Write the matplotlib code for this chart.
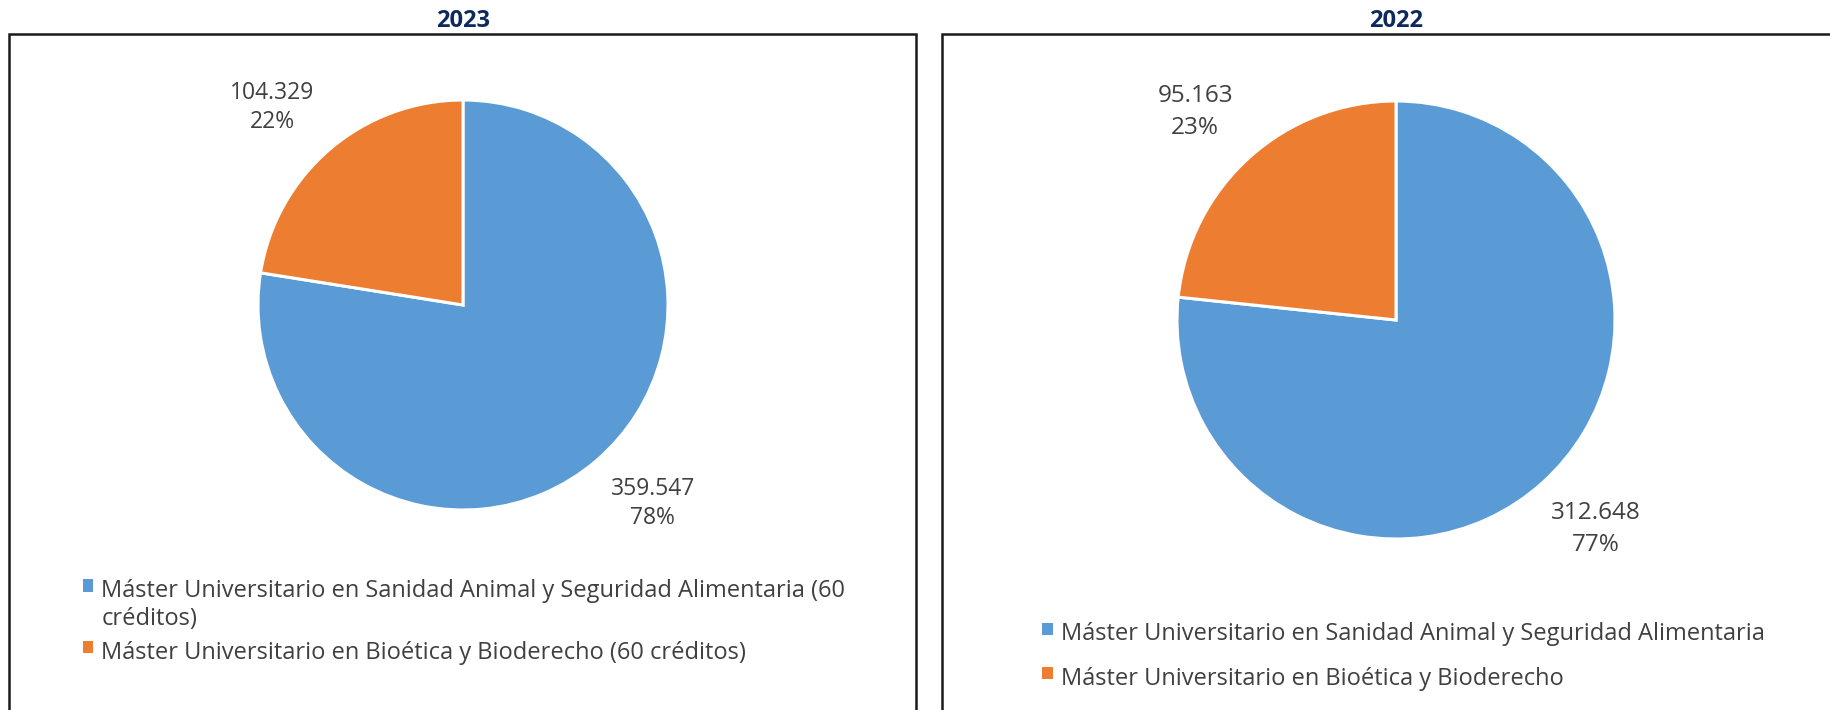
import matplotlib
matplotlib.use("Agg")
import matplotlib.pyplot as plt
from matplotlib.patches import Rectangle, Patch
import numpy as np

# ---- data ----
titles = ["2023", "2022"]
labels_2023 = ["Máster Universitario en Sanidad Animal y Seguridad Alimentaria (60\ncréditos)",
               "Máster Universitario en Bioética y Bioderecho (60 créditos)"]
labels_2022 = ["Máster Universitario en Sanidad Animal y Seguridad Alimentaria",
               "Máster Universitario en Bioética y Bioderecho"]
values_2023 = [359547, 104329]
values_2022 = [312648, 95163]
colors = ["#5B9BD5", "#ED7D31"]

W, H = 1830, 710
fig = plt.figure(figsize=(W / 100, H / 100), dpi=100)

FONT = ["Open Sans", "DejaVu Sans"]

def px_axes(cx, cy, r, L=1.6):
    half = L * r
    return fig.add_axes([(cx - half) / W, (H - cy - half) / H, 2 * half / W, 2 * half / H])

def fmt(v):
    return f"{v:,}".replace(",", ".")

# frames
for (x0, x1) in [(9, 916), (942, 1840)]:
    fig.add_artist(Rectangle((x0 / W, -0.05), (x1 - x0) / W, (H - 34) / H + 0.05,
                             transform=fig.transFigure, fill=False,
                             edgecolor="#1a1a1a", linewidth=1.8))

label_angles = [-46.3, 134.0]
panels = [
    (titles[0], values_2023, labels_2023, (463, 305, 205), 1.34, 16.5, 1.3, (82.5, 579), 0.42),
    (titles[1], values_2022, labels_2022, (1396, 320, 219), 1.32, 17.5, 1.45, (1042, 622.5), 0.85),
]

for title, vals, labs, (cx, cy, r), ldist, lfs, lls, (lx, ly), lspace in panels:
    L = 1.6
    ax = px_axes(cx, cy, r, L)
    wedges, _ = ax.pie(vals, colors=colors, startangle=90, counterclock=False,
                       wedgeprops=dict(edgecolor="white", linewidth=2.2), radius=1.0)
    ax.set_xlim(-L, L)
    ax.set_ylim(-L, L)
    ax.set_aspect("equal")
    ax.axis("off")
    total = sum(vals)
    for a, v in zip(label_angles, vals):
        ang = np.deg2rad(a)
        x, y = ldist * np.cos(ang), ldist * np.sin(ang)
        ax.text(x, y, f"{fmt(v)}\n{round(100 * v / total)}%", ha="center", va="center",
                fontsize=lfs, color="#404040", family=FONT, linespacing=lls)
    fig.text(cx / W, 1 - 21 / H, title, ha="center", va="center", fontsize=17,
             fontweight="bold", color="#0E2A5C", family=FONT)
    handles = [Patch(facecolor=c, edgecolor="none") for c in colors]
    leg = fig.legend(handles, labs, loc="upper left",
                     bbox_to_anchor=(lx / W, 1 - ly / H), bbox_transform=fig.transFigure,
                     frameon=False, prop=dict(family=FONT, size=17),
                     handlelength=0.45, handleheight=0.45, handletextpad=0.35,
                     labelspacing=lspace, borderpad=0, borderaxespad=0)
    for col in leg._legend_handle_box.get_children():
        for item in col.get_children():
            item.align = "top"
    for t in leg.get_texts():
        t.set_color("#404040")

fig.savefig("out.png", dpi=100, facecolor="white")
